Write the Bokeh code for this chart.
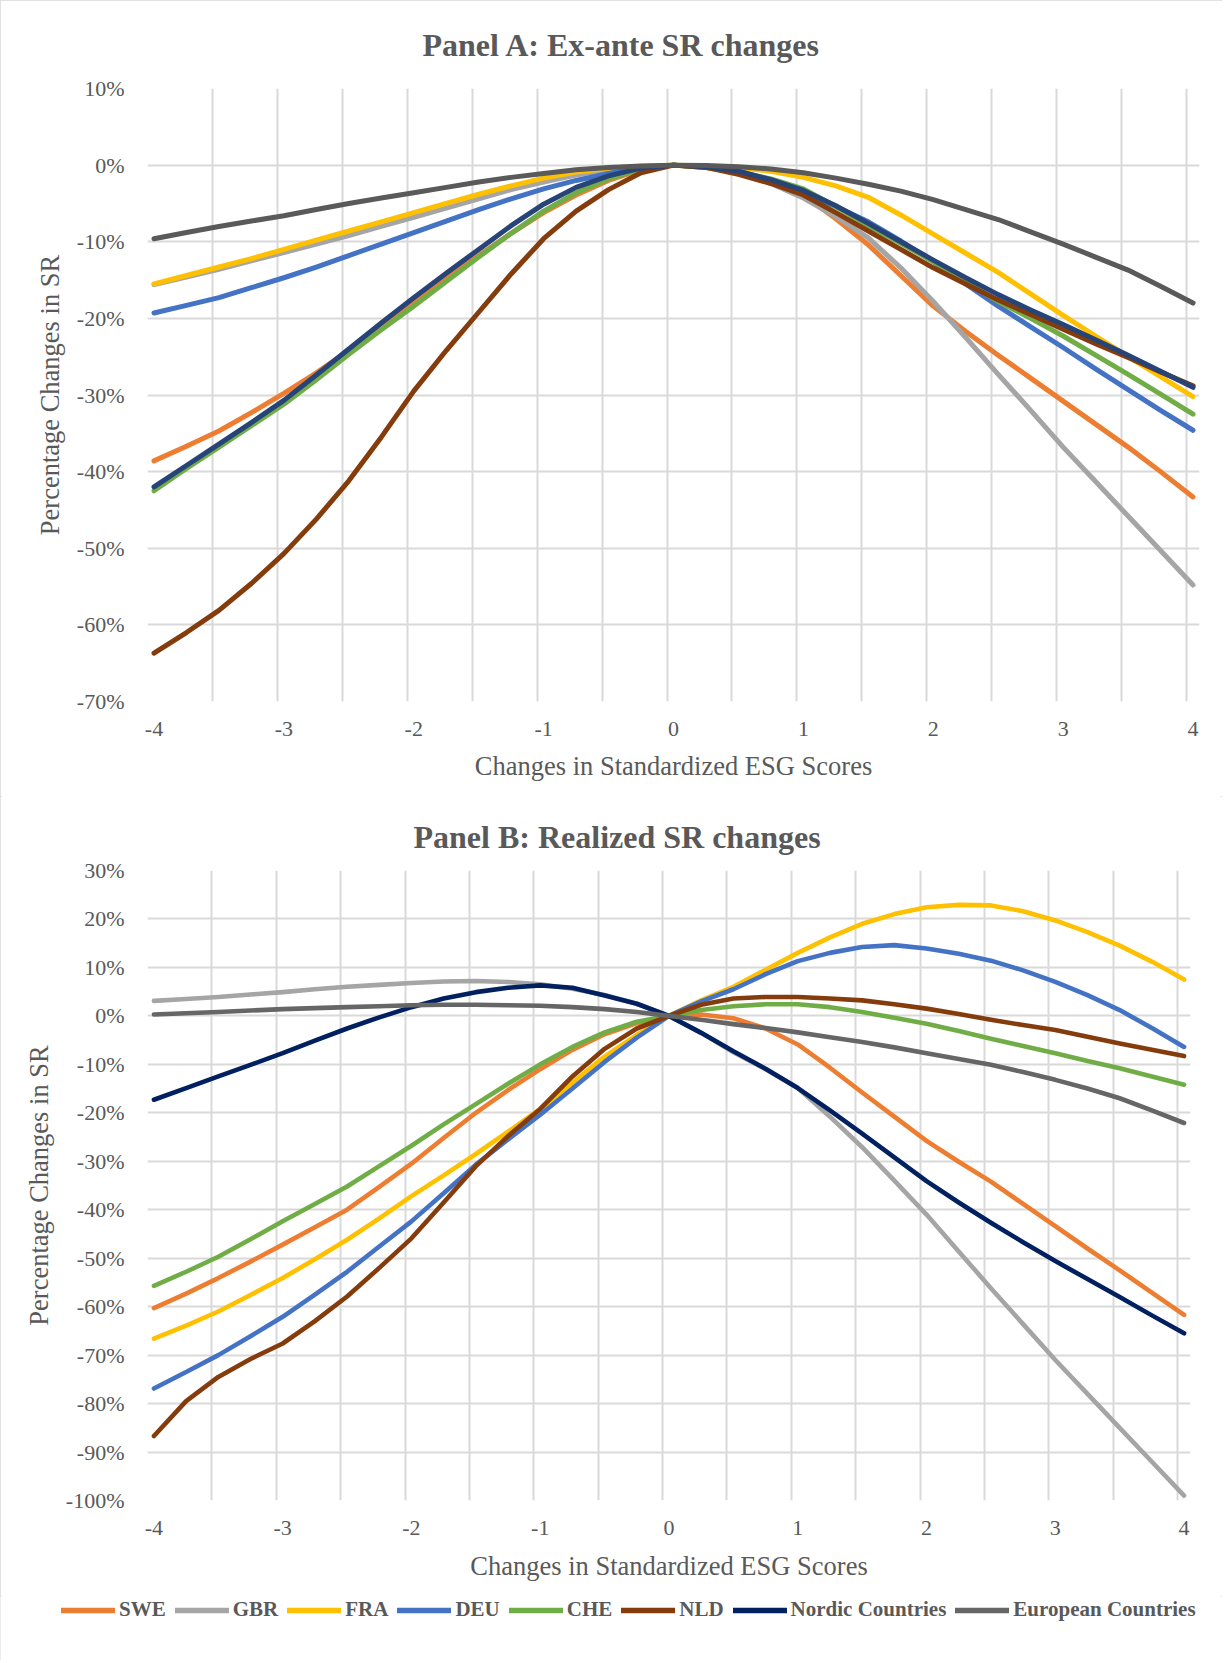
from bokeh.plotting import figure
from bokeh.layouts import column
from bokeh.models import Range1d, FixedTicker, PrintfTickFormatter, Legend, LegendItem
from bokeh.embed import file_html
from bokeh.resources import INLINE

# ---------------- data ----------------
x = [-4, -3.75, -3.5, -3.25, -3, -2.75, -2.5, -2.25, -2, -1.75, -1.5, -1.25, -1, -0.75, -0.5, -0.25,
     0, 0.25, 0.5, 0.75, 1, 1.25, 1.5, 1.75, 2, 2.25, 2.5, 2.75, 3, 3.25, 3.5, 3.75, 4]

series_names = ["SWE", "GBR", "FRA", "DEU", "CHE", "NLD", "Nordic Countries", "European Countries"]

# Panel A: ex-ante SR changes (%)
swe_a = [-38.6, -36.7, -34.7, -32.3, -29.8, -27.1, -24.2, -21.0, -17.7, -14.7, -11.8, -8.9, -6.2, -3.9, -2.0, -0.6,
         0, -0.3, -1.0, -2.2, -3.9, -7.0, -10.4, -14.4, -18.4, -21.7, -24.8, -27.8, -30.8, -33.8, -36.8, -40.0, -43.3]
gbr_a = [-15.6, -14.6, -13.6, -12.5, -11.4, -10.3, -9.2, -8.0, -6.8, -5.6, -4.4, -3.2, -2.2, -1.3, -0.6, -0.2,
         0, -0.2, -0.9, -2.4, -4.3, -6.7, -9.5, -13.4, -17.8, -22.5, -27.3, -32.0, -36.8, -41.3, -45.8, -50.3, -54.8]
fra_a = [-15.5, -14.4, -13.3, -12.2, -11.0, -9.8, -8.6, -7.4, -6.2, -5.0, -3.8, -2.7, -1.7, -0.9, -0.4, -0.15,
         0, -0.1, -0.3, -0.8, -1.6, -2.7, -4.2, -6.5, -9.0, -11.5, -14.0, -16.8, -19.6, -22.3, -25.0, -27.6, -30.2]
deu_a = [-19.3, -18.3, -17.3, -16.0, -14.7, -13.3, -11.8, -10.3, -8.8, -7.3, -5.8, -4.4, -3.1, -2.0, -1.1, -0.3,
         0, -0.2, -0.8, -2.0, -3.6, -5.4, -7.4, -9.9, -12.6, -15.5, -18.4, -21.1, -23.8, -26.6, -29.3, -32.0, -34.6]
che_a = [-42.5, -39.6, -36.8, -34.0, -31.2, -28.0, -24.7, -21.5, -18.4, -15.2, -12.0, -8.9, -6.0, -3.6, -1.8, -0.5,
         0, -0.3, -0.9, -1.8, -3.1, -5.4, -7.9, -10.2, -12.6, -15.2, -17.8, -20.0, -22.3, -24.8, -27.3, -29.9, -32.5]
nld_a = [-63.7, -61.0, -58.1, -54.6, -50.7, -46.2, -41.2, -35.5, -29.5, -24.2, -19.2, -14.2, -9.6, -6.0, -3.2, -1.0,
         0, -0.3, -1.2, -2.4, -3.9, -6.2, -8.6, -11.0, -13.4, -15.5, -17.6, -19.5, -21.4, -23.3, -25.1, -27.0, -28.8]
nor_a = [-42.0, -39.2, -36.4, -33.6, -30.7, -27.4, -24.0, -20.6, -17.3, -14.1, -11.0, -7.9, -5.1, -2.9, -1.4, -0.4,
         0, -0.2, -0.8, -1.9, -3.3, -5.3, -7.6, -10.0, -12.4, -14.7, -16.9, -18.9, -20.8, -22.8, -24.8, -26.9, -29.0]
eur_a = [-9.6, -8.8, -8.0, -7.3, -6.6, -5.8, -5.0, -4.3, -3.6, -2.9, -2.2, -1.6, -1.1, -0.6, -0.3, -0.1,
         0, -0.05, -0.2, -0.5, -1.0, -1.7, -2.5, -3.4, -4.5, -5.8, -7.1, -8.7, -10.3, -12.0, -13.7, -15.8, -18.0]

# Panel B: realized SR changes (%)
swe_b = [-60.3, -57.3, -54.1, -50.7, -47.2, -43.6, -40.0, -35.3, -30.5, -25.2, -20.0, -15.3, -11.0, -7.0, -3.8, -1.5,
         0, 0.3, -0.5, -2.6, -5.9, -10.7, -15.8, -20.8, -25.8, -30.1, -34.2, -38.8, -43.4, -48.0, -52.5, -57.1, -61.7]
gbr_b = [3.1, 3.5, 3.9, 4.4, 4.9, 5.5, 6.0, 6.4, 6.8, 7.1, 7.2, 7.0, 6.5, 5.6, 4.3, 2.5,
         0, -3.5, -7.5, -11.0, -14.9, -20.8, -27.1, -34.0, -41.0, -48.6, -56.2, -63.6, -71.0, -78.0, -85.0, -92.0, -99.0]
fra_b = [-66.6, -63.9, -61.0, -57.6, -54.1, -50.2, -46.2, -41.8, -37.2, -32.9, -28.5, -23.9, -19.2, -13.8, -8.4, -3.9,
         0, 3.2, 6.0, 9.5, 13.0, 16.2, 19.0, 21.0, 22.4, 22.9, 22.8, 21.6, 19.7, 17.3, 14.5, 11.2, 7.5]
deu_b = [-76.9, -73.5, -70.0, -66.1, -62.1, -57.5, -52.8, -47.6, -42.4, -36.6, -30.7, -25.5, -20.4, -15.0, -9.5, -4.5,
         0, 3.0, 5.5, 8.6, 11.3, 13.0, 14.2, 14.6, 13.9, 12.8, 11.4, 9.4, 7.0, 4.3, 1.2, -2.5, -6.4]
che_b = [-55.7, -52.8, -49.7, -46.1, -42.4, -38.8, -35.2, -31.0, -26.8, -22.4, -18.2, -14.0, -10.0, -6.4, -3.4, -1.2,
         0, 1.2, 2.0, 2.4, 2.4, 1.8, 0.8, -0.4, -1.6, -3.1, -4.7, -6.2, -7.7, -9.3, -10.8, -12.5, -14.2]
nld_b = [-86.7, -79.5, -74.5, -70.8, -67.6, -63.0, -57.9, -52.0, -45.9, -38.5, -31.0, -24.8, -19.2, -12.5, -6.8, -2.6,
         0, 2.3, 3.6, 3.9, 3.9, 3.6, 3.2, 2.4, 1.5, 0.4, -0.8, -1.9, -2.9, -4.3, -5.7, -7.0, -8.3]
nor_b = [-17.3, -14.9, -12.5, -10.1, -7.7, -5.1, -2.6, -0.3, 1.8, 3.6, 4.9, 5.8, 6.3, 5.8, 4.2, 2.5,
         0, -3.5, -7.3, -10.9, -14.9, -19.5, -24.3, -29.2, -34.1, -38.5, -42.7, -46.7, -50.6, -54.3, -58.0, -61.8, -65.5]
eur_b = [0.3, 0.55, 0.8, 1.1, 1.4, 1.6, 1.8, 2.0, 2.2, 2.3, 2.3, 2.2, 2.1, 1.8, 1.4, 0.8,
         0, -0.8, -1.7, -2.5, -3.4, -4.4, -5.4, -6.5, -7.7, -8.9, -10.1, -11.6, -13.2, -15.0, -17.0, -19.5, -22.1]

x_tick_labels = [-4, -3, -2, -1, 0, 1, 2, 3, 4]
y_ticks_a = [-70, -60, -50, -40, -30, -20, -10, 0, 10]
y_ticks_b = [-100, -90, -80, -70, -60, -50, -40, -30, -20, -10, 0, 10, 20, 30]

# ---------------- styling ----------------
FONT = "Liberation Serif"
TXT = "#595959"
GRID = "#D9D9D9"
colors_a = ["#ED7D31", "#A5A5A5", "#FFC000", "#4472C4", "#70AD47", "#843C0C", "#264478", "#5A5A5A"]
colors_b = ["#ED7D31", "#A5A5A5", "#FFC000", "#4472C4", "#70AD47", "#843C0C", "#002060", "#666666"]

W = 1222

# category axis: categories at step 0.1, gridlines on category boundaries every 5
cat_step = 0.1
x_lo = x_tick_labels[0] - cat_step / 2
x_hi = x_tick_labels[-1] + cat_step / 2
x_grid = [round(x_lo + 0.5 * k, 3) for k in range(17)]


def make_panel(title, series, colors, yticks, width, height, borders, title_offset, title_standoff,
               title_valign, lw, label_standoff):
    left, right, top, bottom = borders
    p = figure(width=width, height=height,
               min_border_left=left, min_border_right=right,
               min_border_top=top, min_border_bottom=bottom,
               x_range=Range1d(x_lo, x_hi), y_range=Range1d(yticks[0], yticks[-1]),
               output_backend="svg", toolbar_location=None, title=title)
    p.frame_align = False
    p.outline_line_color = None
    p.background_fill_color = "white"
    p.border_fill_color = "white"

    p.title.text_font = FONT
    p.title.text_font_size = "32px"
    p.title.text_font_style = "bold"
    p.title.text_color = TXT
    p.title.align = "left"
    p.title.vertical_align = title_valign
    p.title.offset = title_offset
    p.title.standoff = title_standoff

    p.xaxis.ticker = FixedTicker(ticks=x_tick_labels)
    p.xaxis.formatter = PrintfTickFormatter(format="%d")
    p.yaxis.ticker = FixedTicker(ticks=yticks)
    p.yaxis.formatter = PrintfTickFormatter(format="%d%%")
    p.xgrid.ticker = FixedTicker(ticks=x_grid)
    p.ygrid.ticker = FixedTicker(ticks=yticks)
    for g in (p.xgrid, p.ygrid):
        g.grid_line_color = GRID
        g.grid_line_width = 2

    for ax in (p.xaxis, p.yaxis):
        ax.axis_line_color = None
        ax.major_tick_line_color = None
        ax.minor_tick_line_color = None
        ax.major_tick_out = 0
        ax.major_tick_in = 0
        ax.major_label_text_font = FONT
        ax.major_label_text_font_size = "22px"
        ax.major_label_text_color = TXT
        ax.axis_label_text_font = FONT
        ax.axis_label_text_font_size = "26.5px"
        ax.axis_label_text_font_style = "normal"
        ax.axis_label_text_color = TXT

    p.xaxis.axis_label = "Changes in Standardized ESG Scores"
    p.yaxis.axis_label = "Percentage Changes in SR"
    p.xaxis.major_label_standoff = 20
    p.xaxis.axis_label_standoff = label_standoff
    p.yaxis.major_label_standoff = 23
    p.yaxis.axis_label_standoff = 9

    renderers = []
    for ys, c in zip(series, colors):
        r = p.line(x, ys, line_color=c, line_width=lw, line_join="round", line_cap="round")
        renderers.append(r)
    return p, renderers


pA, _ = make_panel("Panel A: Ex-ante SR changes",
                   [swe_a, gbr_a, fra_a, deu_a, che_a, nld_a, nor_a, eur_a], colors_a, y_ticks_a,
                   W, 796, (147, W - 147 - 1052, 88, 95), 275, 48, "top", 5, 12)

pB, rB = make_panel("Panel B: Realized SR changes",
                    [swe_b, gbr_b, fra_b, deu_b, che_b, nld_b, nor_b, eur_b], colors_b, y_ticks_b,
                    W, 800, (147, W - 147 - 1043, 74, 96), 266, 32, "bottom", 4.6, 13)

# legend strip under panel B (series names / colours of panel B)
pC = figure(width=W, height=64, x_range=Range1d(0, 1), y_range=Range1d(0, 1),
            x_axis_type=None, y_axis_type=None, min_border=0,
            output_backend="svg", toolbar_location=None)
pC.frame_align = False
pC.outline_line_color = None
pC.background_fill_color = "white"
pC.border_fill_color = "white"
nan = float("nan")
leg_renderers = [pC.line(x=[nan], y=[nan], line_color=c, line_width=5.5, line_cap="round")
                 for c in colors_b]

legend = Legend(items=[LegendItem(label=n, renderers=[r]) for n, r in zip(series_names, leg_renderers)],
                orientation="horizontal", location=(61, 38))
legend.background_fill_alpha = 0
legend.border_line_color = None
legend.padding = 0
legend.margin = 0
legend.spacing = 9
legend.glyph_width = 54
legend.glyph_height = 24
legend.label_height = 24
legend.label_standoff = 4
legend.label_text_font = FONT
legend.label_text_font_style = "bold"
legend.label_text_font_size = "21px"
legend.label_text_color = TXT
pC.add_layout(legend)

pA.styles = {"outline": "2px solid #D9D9D9", "outline-offset": "-2px"}

layout = column(pA, pB, pC, spacing=0)
layout.styles = {"outline": "2px solid #D9D9D9", "outline-offset": "-2px"}

open("out.html", "w").write(file_html(layout, INLINE))
